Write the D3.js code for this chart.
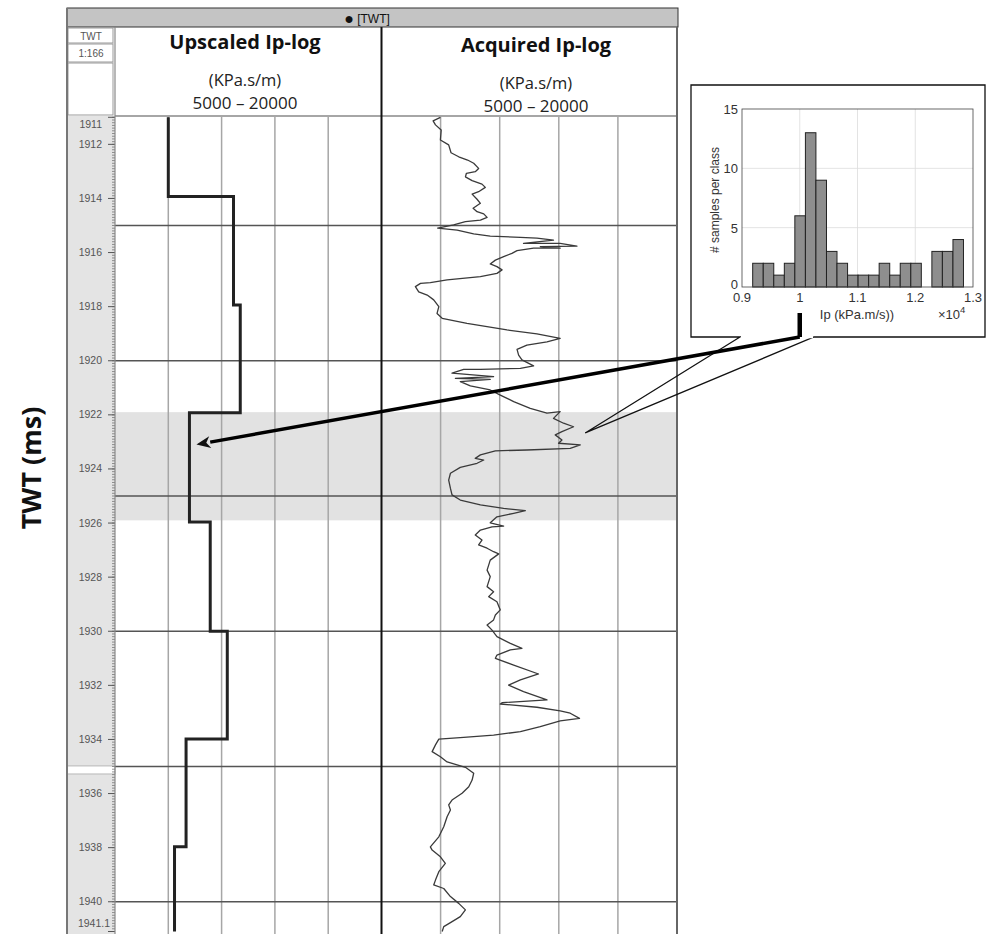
<!DOCTYPE html>
<html>
<head>
<meta charset="utf-8">
<script src="https://cdn.jsdelivr.net/npm/d3@7"></script>
<style>
  body { margin: 0; background: #fff; }
  svg { display: block; }
</style>
</head>
<body>
<svg id="chart" width="986" height="934"></svg>
<script>
// ---- data ----

// upscaled log: blocky steps (top of each block, block value in KPa.s/m)
const upscaledTops = [1911, 1913.93, 1917.94, 1921.92, 1925.96, 1930.0, 1933.98, 1937.97]
const upscaledValues = [8000, 11670, 12050, 9190, 10360, 11320, 9000, 8350]
const logBottom = 1941.1

// acquired log: traced samples
const acqDepth = [1911.0, 1911.13, 1911.28, 1911.47, 1911.84, 1912.02, 1912.31, 1912.46, 1912.58, 1912.7,
  1912.89, 1913.01, 1913.07, 1913.2, 1913.34, 1913.47, 1913.59, 1913.75, 1913.84, 1914.03,
  1914.18, 1914.36, 1914.49, 1914.57, 1914.7, 1914.8, 1914.86, 1914.98, 1915.1, 1915.17,
  1915.31, 1915.39, 1915.44, 1915.47, 1915.54, 1915.66, 1915.66, 1915.76, 1915.78, 1915.84,
  1915.84, 1915.93, 1916.03, 1916.15, 1916.28, 1916.42, 1916.52, 1916.64, 1916.77, 1916.89,
  1917.01, 1917.11, 1917.14, 1917.26, 1917.45, 1917.57, 1917.75, 1918.0, 1918.25, 1918.43,
  1918.62, 1918.86, 1919.01, 1919.17, 1919.3, 1919.42, 1919.58, 1919.79, 1919.97, 1920.19,
  1920.28, 1920.32, 1920.32, 1920.46, 1920.59, 1920.65, 1920.69, 1920.77, 1920.93, 1921.08,
  1921.27, 1921.51, 1921.76, 1921.94, 1921.88, 1922.13, 1922.31, 1922.44, 1922.62, 1922.74,
  1922.93, 1923.05, 1923.11, 1923.24, 1923.3, 1923.33, 1923.48, 1923.61, 1923.67, 1923.79,
  1923.94, 1924.16, 1924.41, 1924.72, 1924.96, 1925.15, 1925.33, 1925.46, 1925.54, 1925.64,
  1925.77, 1925.99, 1926.11, 1926.14, 1926.26, 1926.44, 1926.63, 1926.81, 1926.93, 1927.06,
  1927.14, 1927.37, 1927.74, 1927.98, 1928.35, 1928.54, 1928.72, 1928.91, 1929.21, 1929.4,
  1929.58, 1929.77, 1929.96, 1930.2, 1930.45, 1930.63, 1930.69, 1930.88, 1931.0, 1931.25,
  1931.58, 1931.8, 1931.99, 1932.23, 1932.54, 1932.64, 1932.69, 1932.81, 1932.94, 1933.03,
  1933.22, 1933.31, 1933.53, 1933.71, 1933.84, 1933.92, 1933.99, 1934.2, 1934.45, 1934.64,
  1934.83, 1935.03, 1935.25, 1935.5, 1935.75, 1935.99, 1936.24, 1936.42, 1936.61, 1936.86,
  1937.23, 1937.6, 1937.97, 1938.09, 1938.34, 1938.58, 1938.89, 1939.2, 1939.38, 1939.51,
  1939.81, 1940.06, 1940.3, 1940.55, 1940.77, 1940.92, 1941.1]
const acqValue = [7990, 7620, 7740, 8030, 7990, 8410, 8530, 8920, 9370, 9680,
  9930, 9760, 9310, 9260, 9600, 10100, 10270, 9930, 9600, 9850,
  10020, 9650, 9850, 10190, 10360, 10020, 9260, 8660, 7850, 8840,
  9680, 10520, 12050, 12890, 13730, 12210, 14070, 14920, 13060, 14070,
  12720, 11880, 11620, 11200, 10780, 10520, 10860, 11120, 10860, 10020,
  8330, 7480, 6980, 6720, 6890, 7320, 7650, 7910, 7820, 8080,
  9340, 11370, 12890, 14070, 13400, 12380, 11880, 11960, 12130, 12720,
  12050, 10020, 9170, 8580, 10690, 8750, 10520, 9000, 9510, 10520,
  11030, 11710, 12550, 13400, 14070, 13730, 14240, 14750, 14160, 13820,
  14160, 13990, 15090, 14580, 12380, 10780, 10020, 9760, 10190, 9850,
  9000, 8500, 8410, 8500, 8580, 9000, 10020, 11200, 12300, 11710,
  10860, 10520, 11200, 10610, 10020, 9760, 10100, 9930, 10360, 10690,
  10950, 10520, 10360, 10520, 10360, 10690, 10440, 10860, 11030, 10780,
  10690, 10360, 10610, 10860, 11540, 12130, 11540, 10860, 10780, 11710,
  12970, 12050, 11450, 12210, 13400, 11120, 11030, 12890, 14070, 14580,
  15050, 14070, 13060, 12050, 10690, 9170, 7910, 7740, 7570, 7990,
  8330, 9260, 9680, 9600, 9430, 9090, 8580, 8410, 8500, 8330,
  8160, 7910, 7480, 7570, 7990, 8240, 7910, 7740, 7650, 8160,
  8500, 8920, 9260, 9000, 8500, 8160, 8080]

// highlighted interval and depth annotations
const bandTop = 1921.9, bandBottom = 1925.9
const majorDepths = [1915, 1920, 1925, 1930, 1935, 1940]
const depthLabels = [1911, 1912, 1914, 1916, 1918, 1920, 1922, 1924, 1926, 1928, 1930, 1932, 1934, 1936, 1938, 1940, 1941.1]
const valueGrid = [8000, 11000, 14000, 17000]

// histogram inset (Ip in units of 1e4 kPa.m/s)
const binEdges = [0.9185, 0.9368, 0.955, 0.9733, 0.9915, 1.0098, 1.028, 1.0463, 1.0645, 1.0828,
  1.101, 1.1193, 1.1375, 1.1558, 1.174, 1.1923, 1.2105, 1.2288, 1.247, 1.2653, 1.2835]
const binCounts = [2, 2, 1, 2, 6, 13, 9, 3, 2, 1, 1, 1, 2, 1, 2, 2, 0, 3, 3, 4]
const histXTicks = [0.9, 1, 1.1, 1.2, 1.3]
const histYTicks = [0, 5, 10, 15]

// pointers: histogram value -> upscaled block, and callout tip on the acquired log
const pointerIp = 1.0, pointerDepth = 1923.1, pointerValue = 9190
const calloutDepth = 1922.67, calloutValue = 15340

// ---- layout ----
const frameL = 67, frameR = 678, frameTop = 8, barBottom = 27, headBottom = 116
const depthColR = 115, trackSplit = 381.5, trackR = 677

const svg = d3.select("#chart")

const y = d3.scaleLinear().domain([1911, logBottom]).range([117.3, 117.3 + 30.1 * 27.05])
const xUp = d3.scaleLinear().domain([5000, 20000]).range([depthColR, trackSplit])
const xAcq = d3.scaleLinear().domain([5000, 20000]).range([trackSplit, trackR])

// title bar
svg.append("rect")
    .attr("x", frameL).attr("y", frameTop)
    .attr("width", frameR - frameL).attr("height", barBottom - frameTop)
    .attr("fill", "#c4c4c4").attr("stroke", "#333").attr("stroke-width", 1)
const ttl = svg.append("text")
    .attr("x", 367).attr("y", 22.5)
    .attr("text-anchor", "middle")
    .attr("font-family", "Liberation Sans, Arial, sans-serif")
    .attr("font-size", 12).attr("fill", "#111")
ttl.append("tspan").attr("font-size", 16).attr("dy", 1).text("\u25CF")
ttl.append("tspan").attr("dy", -1).text(" [TWT]")

// depth column background
svg.append("rect")
    .attr("x", frameL).attr("y", headBottom)
    .attr("width", depthColR - frameL).attr("height", 934 - headBottom)
    .attr("fill", "#e4e4e4")
// small break in depth column
svg.append("rect")
    .attr("x", frameL).attr("y", y(1934.98))
    .attr("width", depthColR - frameL).attr("height", 8)
    .attr("fill", "#fff").attr("stroke", "#aaa").attr("stroke-width", 0.8)

// header cells of depth column
const hdr = svg.append("g")
hdr.append("rect").attr("x", frameL + 1).attr("y", barBottom + 1).attr("width", depthColR - frameL - 3).attr("height", 15)
    .attr("fill", "#fff").attr("stroke", "#999")
hdr.append("rect").attr("x", frameL + 1).attr("y", barBottom + 17).attr("width", depthColR - frameL - 3).attr("height", 18)
    .attr("fill", "#fff").attr("stroke", "#999")
hdr.append("rect").attr("x", frameL + 1).attr("y", barBottom + 36).attr("width", depthColR - frameL - 3).attr("height", headBottom - barBottom - 37)
    .attr("fill", "#fff").attr("stroke", "#999")
hdr.append("text").attr("x", 91).attr("y", 39.5).attr("text-anchor", "middle")
    .attr("font-family", "Liberation Sans, Arial, sans-serif").attr("font-size", 10).attr("fill", "#555").text("TWT")
hdr.append("text").attr("x", 91).attr("y", 57).attr("text-anchor", "middle")
    .attr("font-family", "Liberation Sans, Arial, sans-serif").attr("font-size", 10).attr("fill", "#555").text("1:166")

// track headers
const headFont = "Open Sans, sans-serif"
function trackHeader(cx, dy, title) {
    const g = svg.append("g").attr("font-family", headFont).attr("text-anchor", "middle").attr("fill", "#111")
    g.append("text").attr("x", cx).attr("y", 49 + dy).attr("font-size", 20).attr("font-weight", "bold").text(title)
    g.append("text").attr("x", cx).attr("y", 85.5 + dy).attr("font-size", 16.5).attr("fill", "#222").text("(KPa.s/m)")
    g.append("text").attr("x", cx).attr("y", 109 + dy).attr("font-size", 17).attr("fill", "#222").text("5000 \u2013 20000")
}
trackHeader(245, 0, "Upscaled Ip-log")
trackHeader(536, 3, "Acquired Ip-log")

svg.append("line").attr("x1", depthColR).attr("x2", trackR).attr("y1", headBottom).attr("y2", headBottom)
    .attr("stroke", "#888").attr("stroke-width", 1.5)

// highlighted interval
svg.append("rect")
    .attr("x", depthColR).attr("y", y(bandTop))
    .attr("width", trackR - depthColR).attr("height", y(bandBottom) - y(bandTop))
    .attr("fill", "#e2e2e2")

// vertical value grid
const grid = svg.append("g")
grid.selectAll(".vu").data(valueGrid).join("line")
    .attr("x1", d => xUp(d)).attr("x2", d => xUp(d))
    .attr("y1", headBottom).attr("y2", 934)
    .attr("stroke", "#a6a6a6").attr("stroke-width", 1.5)
grid.selectAll(".va").data(valueGrid).join("line")
    .attr("class", "va")
    .attr("x1", d => xAcq(d)).attr("x2", d => xAcq(d))
    .attr("y1", headBottom).attr("y2", 934)
    .attr("stroke", "#a6a6a6").attr("stroke-width", 1.5)

// horizontal major depth lines
grid.selectAll(".hz").data(majorDepths).join("line")
    .attr("class", "hz")
    .attr("x1", depthColR).attr("x2", trackR)
    .attr("y1", d => y(d)).attr("y2", d => y(d))
    .attr("stroke", "#555").attr("stroke-width", 1.4)

// depth ticks and labels
const minorTicks = d3.range(1911, logBottom + 0.001, 0.1)
svg.append("g").selectAll("line").data(minorTicks).join("line")
    .attr("x1", depthColR - 3).attr("x2", depthColR)
    .attr("y1", d => y(d)).attr("y2", d => y(d))
    .attr("stroke", "#666").attr("stroke-width", 0.7)
svg.append("g").selectAll("line").data(depthLabels).join("line")
    .attr("x1", depthColR - 7).attr("x2", depthColR)
    .attr("y1", d => y(d)).attr("y2", d => y(d))
    .attr("stroke", "#555").attr("stroke-width", 1)
svg.append("g").selectAll("text").data(depthLabels).join("text")
    .attr("x", d => d === logBottom ? 110 : 102)
    .attr("y", d => d === 1911 ? y(d) + 11 : d === logBottom ? y(d) - 5 : y(d) + 3.5)
    .attr("text-anchor", "end")
    .attr("font-family", "Liberation Sans, Arial, sans-serif")
    .attr("font-size", 10.5).attr("fill", "#555")
    .text(d => d)

// frame lines
svg.append("line").attr("x1", frameL).attr("x2", frameL).attr("y1", frameTop).attr("y2", 934)
    .attr("stroke", "#777").attr("stroke-width", 2)
svg.append("line").attr("x1", depthColR).attr("x2", depthColR).attr("y1", barBottom).attr("y2", 934)
    .attr("stroke", "#888").attr("stroke-width", 1.2)
svg.append("line").attr("x1", trackSplit).attr("x2", trackSplit).attr("y1", barBottom).attr("y2", 934)
    .attr("stroke", "#111").attr("stroke-width", 2)
svg.append("line").attr("x1", trackR).attr("x2", trackR).attr("y1", barBottom).attr("y2", 934)
    .attr("stroke", "#666").attr("stroke-width", 2)

// upscaled log as a step line
const upPts = []
upscaledTops.forEach((t, i) => {
    const bottom = i + 1 < upscaledTops.length ? upscaledTops[i + 1] : logBottom
    upPts.push([upscaledValues[i], t], [upscaledValues[i], bottom])
})
svg.append("path")
    .datum(upPts)
    .attr("fill", "none")
    .attr("stroke", "#222").attr("stroke-width", 3)
    .attr("d", d3.line().x(d => xUp(d[0])).y(d => y(d[1])))

// acquired log
svg.append("path")
    .datum(acqDepth.map((d, i) => [acqValue[i], d]))
    .attr("fill", "none")
    .attr("stroke", "#3a3a3a").attr("stroke-width", 1.3)
    .attr("stroke-linejoin", "round")
    .attr("d", d3.line().x(d => xAcq(d[0])).y(d => y(d[1])))

// ---- histogram inset ----
const boxL = 691, boxR = 985, boxT = 85, boxB = 337
const hx = d3.scaleLinear().domain([0.9, 1.3]).range([742, 973])
const hy = d3.scaleLinear().domain([0, 15]).range([287, 109])

svg.append("rect").attr("x", boxL).attr("y", boxT).attr("width", boxR - boxL).attr("height", boxB - boxT)
    .attr("fill", "#fff")

const tip = [xAcq(calloutValue), y(calloutDepth)]
svg.append("path")
    .attr("d", `M${740},${boxB} L${tip[0]},${tip[1]} L${814},${boxB} H${boxR} V${boxT} H${boxL} V${boxB} Z`)
    .attr("fill", "none").attr("stroke", "#111").attr("stroke-width", 1.3)
    .attr("stroke-linejoin", "miter")
// clear bottom edge of the callout mouth
svg.append("line").attr("x1", 741).attr("x2", 813).attr("y1", boxB).attr("y2", boxB)
    .attr("stroke", "#fff").attr("stroke-width", 2.5)

const hist = svg.append("g").attr("font-family", "Liberation Sans, Arial, sans-serif")
hist.append("rect").attr("x", hx(0.9)).attr("y", hy(15)).attr("width", hx(1.3) - hx(0.9)).attr("height", hy(0) - hy(15))
    .attr("fill", "#fff")
hist.selectAll(".gx").data(histXTicks.slice(1, -1)).join("line")
    .attr("class", "gx")
    .attr("x1", d => hx(d)).attr("x2", d => hx(d)).attr("y1", hy(0)).attr("y2", hy(15))
    .attr("stroke", "#dcdcdc").attr("stroke-width", 0.8)
hist.selectAll(".gy").data(histYTicks.slice(1, -1)).join("line")
    .attr("class", "gy")
    .attr("x1", hx(0.9)).attr("x2", hx(1.3)).attr("y1", d => hy(d)).attr("y2", d => hy(d))
    .attr("stroke", "#dcdcdc").attr("stroke-width", 0.8)
hist.selectAll(".bar").data(binCounts.map((c, i) => ({ c, x0: binEdges[i], x1: binEdges[i + 1] })).filter(d => d.c > 0))
    .join("rect")
    .attr("class", "bar")
    .attr("x", d => hx(d.x0)).attr("width", d => hx(d.x1) - hx(d.x0))
    .attr("y", d => hy(d.c)).attr("height", d => hy(0) - hy(d.c))
    .attr("fill", "#8e8e8e").attr("stroke", "#222").attr("stroke-width", 1)
hist.append("rect").attr("x", hx(0.9)).attr("y", hy(15)).attr("width", hx(1.3) - hx(0.9)).attr("height", hy(0) - hy(15))
    .attr("fill", "none").attr("stroke", "#444").attr("stroke-width", 0.8)

hist.selectAll(".tx").data(histXTicks).join("text")
    .attr("class", "tx")
    .attr("x", d => hx(d)).attr("y", hy(0) + 15)
    .attr("text-anchor", "middle").attr("font-size", 13).attr("fill", "#333")
    .text(d => d)
hist.selectAll(".ty").data(histYTicks).join("text")
    .attr("class", "ty")
    .attr("x", hx(0.9) - 4).attr("y", d => d === 0 ? hy(d) + 2 : hy(d) + 5)
    .attr("text-anchor", "end").attr("font-size", 13).attr("fill", "#333")
    .text(d => d)
hist.append("text")
    .attr("transform", `translate(719,${(hy(0) + hy(15)) / 2 + 2}) rotate(-90)`)
    .attr("text-anchor", "middle").attr("font-size", 12).attr("fill", "#333")
    .text("# samples per class")
hist.append("text").attr("x", 857).attr("y", 318.5)
    .attr("text-anchor", "middle").attr("font-size", 13).attr("fill", "#333")
    .text("Ip (kPa.m/s))")
const pw = hist.append("text").attr("x", 938).attr("y", 319).attr("font-size", 13).attr("fill", "#333")
pw.append("tspan").text("\u00D710")
pw.append("tspan").attr("dy", -6).attr("font-size", 9.5).text("4")

// ---- pointer arrow from histogram to upscaled block ----
const start = [hx(pointerIp), boxB]
svg.append("line").attr("x1", start[0]).attr("x2", start[0]).attr("y1", 313).attr("y2", boxB)
    .attr("stroke", "#000").attr("stroke-width", 4.5)
const end = [xUp(pointerValue) + 7, y(pointerDepth)]
const ang = Math.atan2(end[1] - start[1], end[0] - start[0])
const headLen = 14, headW = 6
const base = [end[0] - headLen * Math.cos(ang), end[1] - headLen * Math.sin(ang)]
svg.append("line")
    .attr("x1", start[0]).attr("y1", start[1]).attr("x2", base[0]).attr("y2", base[1])
    .attr("stroke", "#000").attr("stroke-width", 3.5)
svg.append("path")
    .attr("d", `M${end[0]},${end[1]}` +
        `L${base[0] + headW * Math.sin(ang)},${base[1] - headW * Math.cos(ang)}` +
        `L${base[0] + 4 * Math.cos(ang)},${base[1] + 4 * Math.sin(ang)}` +
        `L${base[0] - headW * Math.sin(ang)},${base[1] + headW * Math.cos(ang)}Z`)
    .attr("fill", "#111")

// axis title on the far left
svg.append("text")
    .attr("transform", "translate(41,468) rotate(-90)")
    .attr("text-anchor", "middle")
    .attr("font-family", headFont).attr("font-weight", "bold")
    .attr("font-size", 27).attr("fill", "#111")
    .text("TWT (ms)")
</script>
</body>
</html>
